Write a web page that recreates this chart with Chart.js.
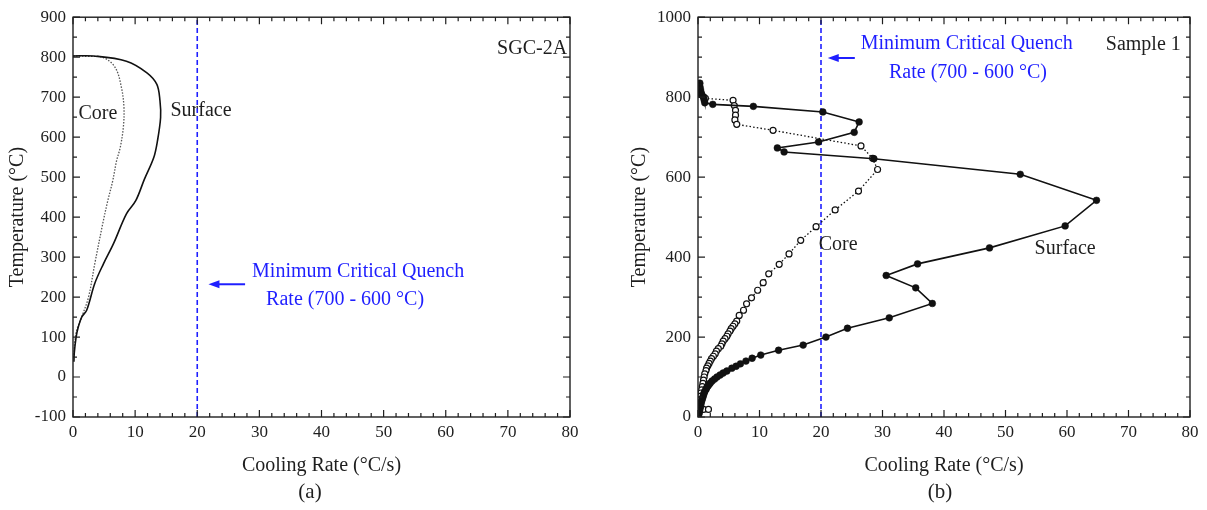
<!DOCTYPE html>
<html>
<head>
<meta charset="utf-8">
<script src="https://cdn.jsdelivr.net/npm/chart.js@4.4.1/dist/chart.umd.min.js"></script>
<style>
body { margin: 0; background: #fff; }
#wrap { position: relative; width: 1207px; height: 510px; background: #fff; }
#chartA { position: absolute; left: 0; top: 0; }
#chartB { position: absolute; left: 620px; top: 0; }
</style>
</head>
<body>
<div id="wrap">
  <canvas id="chartA" width="600" height="510"></canvas>
  <canvas id="chartB" width="587" height="510"></canvas>
</div>
<script>
//#####################
// Data (a) SGC-2A
//#####################
const surfRateA = [0, 3.3, 8.6, 11.9, 13.5, 14.0, 14.1, 13.6, 13.0, 11.5, 10.1, 8.6, 6.5, 4.9, 3.5, 2.2, 1.4, 0.85, 0.5, 0.2, 0.15];
const surfTempA = [803, 803, 790, 761, 732, 691, 649, 591, 549, 495, 441, 408, 333, 283, 234, 167, 150, 125, 100, 59, 38];
const coreRateA = [0, 2.5, 4.9, 6.8, 7.8, 8.2, 8.1, 7.6, 7.0, 6.4, 5.6, 4.9, 3.5, 2.5, 1.4, 0.6, 0.3, 0.15];
const coreTempA = [803, 802, 799, 774, 724, 674, 624, 574, 540, 491, 441, 392, 283, 200, 150, 117, 90, 50];

//#####################
// Data (b) Sample 1
//#####################
const surfRateB = [0.3, 0.3, 0.4, 0.5, 0.6, 0.9, 1.0, 1.1, 2.4, 9.0, 20.3, 26.2, 25.4, 19.6, 12.9, 14.0, 28.6,
  52.4, 64.8, 59.7, 47.4, 35.7, 30.6, 35.4, 38.1, 31.1, 24.3, 20.8, 17.1, 13.1, 10.2, 8.8, 7.8, 6.9, 6.2, 5.5, 4.7,
  4.1, 3.6, 3.1, 2.7, 2.3, 2.0, 1.8, 1.6, 1.4, 1.3, 1.1, 1.0, 0.9, 0.8, 0.7, 0.6, 0.5, 0.45, 0.4, 0.3, 0.25, 0.2, 0.1, 0.05];
const surfTempB = [835, 827, 820, 812, 806, 800, 793, 786, 782, 777, 763, 738, 712, 688, 673, 663, 646,
  607, 542, 478, 423, 383, 354, 323, 284, 248, 222, 200, 180, 167, 155, 147, 140, 133, 127, 122, 115,
  110, 105, 100, 95, 90, 85, 81, 77, 73, 69, 64, 60, 55, 50, 45, 40, 35, 30, 25, 20, 15, 10, 5, 1];
const coreRateB = [0.2, 0.5, 0.9, 1.2, 5.7, 5.9, 6.1, 6.1, 6.0, 6.3, 12.2, 26.5, 28.4, 29.2, 26.1, 22.3, 19.2, 16.7, 14.8, 13.2,
  11.5, 10.6, 9.7, 8.7, 7.9, 7.4, 6.7, 6.3, 6.0, 5.7, 5.4, 5.2, 4.9, 4.7, 4.4, 4.1, 3.9, 3.7, 3.3, 3.0, 2.8, 2.5, 2.2, 2.0,
  1.8, 1.6, 1.4, 1.3, 1.1, 1.0, 0.9, 0.8, 0.7, 0.6, 0.5, 0.45, 0.4, 0.35, 0.3, 0.5, 0.9, 1.7];
const coreTempB = [812, 806, 801, 797, 792, 779, 767, 755, 743, 732, 717, 678, 647, 619, 565, 518, 476, 442, 408, 382,
  358, 336, 317, 298, 283, 267, 254, 240, 233, 227, 221, 215, 208, 202, 196, 190, 183, 177, 171, 165, 158, 152, 146, 140,
  134, 128, 122, 116, 108, 100, 92, 84, 76, 68, 60, 52, 44, 36, 28, 19, 19, 19];

// critical quench rate line
const criticalRate = 20;

const FONT = '"Liberation Serif", "Times New Roman", serif';
const INK = '#1e1e1e';
const BLUE = '#1f1fff';

const toPoints = (xs, ys) => xs.map((v, i) => ({x: v, y: ys[i]}));

//#####################
// Frame, inward ticks and notes
//#####################
const frameTicks = {
  id: 'frameTicks',
  afterDraw(chart, args, opts) {
    const {ctx, chartArea: a, scales: {x, y}} = chart;
    ctx.save();
    ctx.strokeStyle = INK;
    ctx.lineWidth = 1.4;
    ctx.strokeRect(a.left, a.top, a.right - a.left, a.bottom - a.top);

    ctx.lineWidth = 1.2;
    ctx.beginPath();
    const nx = Math.round((x.max - x.min) / opts.xMinor);
    for (let i = 0; i <= nx; i++) {
      const v = x.min + i * opts.xMinor;
      const len = (i % opts.xEvery === 0) ? 7 : 4;
      const px = x.getPixelForValue(v);
      ctx.moveTo(px, a.bottom); ctx.lineTo(px, a.bottom - len);
      ctx.moveTo(px, a.top); ctx.lineTo(px, a.top + len);
    }
    const ny = Math.round((y.max - y.min) / opts.yMinor);
    for (let i = 0; i <= ny; i++) {
      const v = y.min + i * opts.yMinor;
      const len = (i % opts.yEvery === 0) ? 7 : 4;
      const py = y.getPixelForValue(v);
      ctx.moveTo(a.left, py); ctx.lineTo(a.left + len, py);
      ctx.moveTo(a.right, py); ctx.lineTo(a.right - len, py);
    }
    ctx.stroke();

    ctx.textAlign = 'center';
    ctx.textBaseline = 'middle';
    (opts.notes || []).forEach(n => {
      ctx.fillStyle = n.color || INK;
      ctx.font = '20px ' + FONT;
      ctx.fillText(n.text, x.getPixelForValue(n.x), y.getPixelForValue(n.y));
    });

    (opts.arrows || []).forEach(ar => {
      const x1 = x.getPixelForValue(ar.from), x2 = x.getPixelForValue(ar.to), py = y.getPixelForValue(ar.y);
      ctx.strokeStyle = BLUE; ctx.fillStyle = BLUE; ctx.lineWidth = 2;
      ctx.beginPath(); ctx.moveTo(x1, py); ctx.lineTo(x2 + 8, py); ctx.stroke();
      ctx.beginPath(); ctx.moveTo(x2, py); ctx.lineTo(x2 + 11, py - 4); ctx.lineTo(x2 + 11, py + 4); ctx.closePath(); ctx.fill();
    });

    if (opts.panel) {
      ctx.fillStyle = INK;
      ctx.font = '21px ' + FONT;
      ctx.fillText(opts.panel.text, opts.panel.px, opts.panel.py);
    }
    ctx.restore();
  }
};

const makeScales = (yMin, yMax, yStep, yWidth, yTitlePad) => ({
  x: {
    type: 'linear', min: 0, max: 80,
    ticks: {stepSize: 10, padding: 5, color: INK, font: {family: FONT, size: 17}},
    grid: {display: false, drawTicks: false, tickLength: 0},
    border: {display: false},
    title: {display: true, text: 'Cooling Rate (°C/s)', color: INK, font: {family: FONT, size: 20}, padding: {top: 0, bottom: 32}},
    afterFit: (s) => { s.height = 93; }
  },
  y: {
    type: 'linear', min: yMin, max: yMax,
    ticks: {stepSize: yStep, padding: 7, color: INK, font: {family: FONT, size: 17}, callback: (v) => String(v)},
    grid: {display: false, drawTicks: false, tickLength: 0},
    border: {display: false},
    title: {display: true, text: 'Temperature (°C)', color: INK, font: {family: FONT, size: 20}, padding: {top: yTitlePad, bottom: 0}},
    afterFit: (s) => { s.width = yWidth; }
  }
});

const baseOptions = {
  responsive: false,
  animation: false,
  events: [],
  plugins: {legend: {display: false}, tooltip: {enabled: false}}
};

//#####################
// Chart (a)
//#####################
new Chart(document.getElementById('chartA'), {
  type: 'line',
  data: {
    datasets: [
      {
        label: 'Surface', data: toPoints(surfRateA, surfTempA),
        borderColor: '#111', borderWidth: 1.6, pointRadius: 0, tension: 0.35, fill: false
      },
      {
        label: 'Core', data: toPoints(coreRateA, coreTempA),
        borderColor: '#555', borderWidth: 1.3, borderDash: [1.5, 1.5], pointRadius: 0, tension: 0.35, fill: false
      },
      {
        label: 'Critical', data: [{x: criticalRate, y: -100}, {x: criticalRate, y: 900}],
        borderColor: BLUE, borderWidth: 1.6, borderDash: [5, 3], pointRadius: 0, fill: false
      }
    ]
  },
  options: {
    ...baseOptions,
    layout: {padding: {top: 16, right: 30, left: 0, bottom: 0}},
    scales: makeScales(-100, 900, 100, 73, 6),
    plugins: {
      ...baseOptions.plugins,
      frameTicks: {
        xMinor: 2, xEvery: 5, yMinor: 50, yEvery: 2,
        notes: [
          {text: 'SGC-2A', x: 73.9, y: 820},
          {text: 'Core', x: 4.0, y: 658},
          {text: 'Surface', x: 20.6, y: 666},
          {text: 'Minimum Critical Quench', x: 45.9, y: 264, color: BLUE},
          {text: 'Rate (700 - 600 °C)', x: 43.8, y: 194, color: BLUE}
        ],
        arrows: [{from: 27.7, to: 21.8, y: 232}],
        panel: {text: '(a)', px: 310, py: 492}
      }
    }
  },
  plugins: [frameTicks]
});

//#####################
// Chart (b)
//#####################
new Chart(document.getElementById('chartB'), {
  type: 'line',
  data: {
    datasets: [
      {
        label: 'Surface', data: toPoints(surfRateB, surfTempB),
        borderColor: '#111', borderWidth: 1.6, tension: 0,
        pointRadius: 3.4, pointBackgroundColor: '#111', pointBorderColor: '#111', pointBorderWidth: 0.5, fill: false
      },
      {
        label: 'Core', data: toPoints(coreRateB, coreTempB),
        borderColor: '#111', borderWidth: 1.3, borderDash: [1.5, 2.2], tension: 0,
        pointRadius: 3, pointBackgroundColor: '#fff', pointBorderColor: '#111', pointBorderWidth: 1.2, fill: false
      },
      {
        label: 'Critical', data: [{x: criticalRate, y: 0}, {x: criticalRate, y: 1000}],
        borderColor: BLUE, borderWidth: 1.6, borderDash: [5, 3], pointRadius: 0, fill: false
      }
    ]
  },
  options: {
    ...baseOptions,
    layout: {padding: {top: 16, right: 17, left: 0, bottom: 0}},
    scales: makeScales(0, 1000, 200, 78, 8),
    plugins: {
      ...baseOptions.plugins,
      frameTicks: {
        xMinor: 2, xEvery: 5, yMinor: 50, yEvery: 4,
        notes: [
          {text: 'Sample 1', x: 72.4, y: 932},
          {text: 'Core', x: 22.8, y: 432},
          {text: 'Surface', x: 59.7, y: 420},
          {text: 'Minimum Critical Quench', x: 43.7, y: 933, color: BLUE},
          {text: 'Rate (700 - 600 °C)', x: 43.9, y: 862, color: BLUE}
        ],
        arrows: [{from: 25.5, to: 21.1, y: 898}],
        panel: {text: '(b)', px: 320, py: 492}
      }
    }
  },
  plugins: [frameTicks]
});
</script>
</body>
</html>
